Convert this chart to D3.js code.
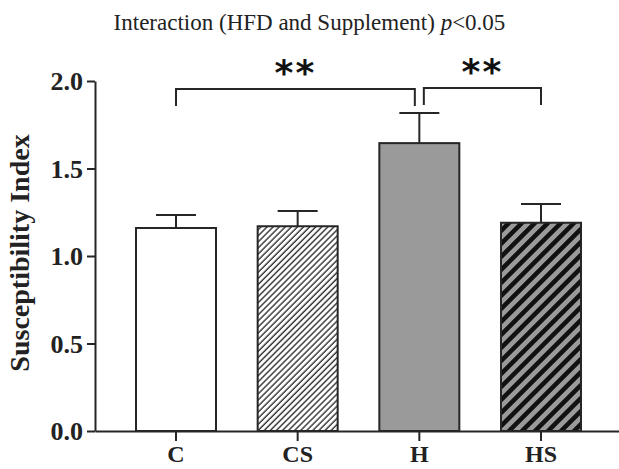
<!DOCTYPE html>
<html><head><meta charset="utf-8">
<script src="https://cdn.jsdelivr.net/npm/d3@7"></script>
<style>body{margin:0;background:#fff}</style>
</head><body><svg id="chart" width="619" height="469"></svg>
<script>
// ---- data ----
const categories = ["C", "CS", "H", "HS"];
const means = [1.16, 1.17, 1.645, 1.19];
const errors = [0.075, 0.087, 0.172, 0.107];
const yTicks = [0, 0.5, 1.0, 1.5, 2.0];
const yTickLabels = ["0.0", "0.5", "1.0", "1.5", "2.0"];
const comparisons = [["C", "H"], ["H", "HS"]];
const comparisonLevels = [1.955, 1.96];
const comparisonLabels = ["**", "**"];
const yLabel = "Susceptibility Index";
const titleMain = "Interaction (HFD and Supplement) ";
const titleP = "p";
const titleTail = "<0.05";

// ---- layout ----
const svg = d3.select("#chart");
const W = 619, H = 469;
const axisX = 95, baseY = 431, topY = 81;
const serif = "'Liberation Serif','Times New Roman',Times,serif";
const ink = "#262626";

const y = d3.scaleLinear().domain([0, 2]).range([baseY, topY]);
const x = d3.scaleBand().domain(categories).range([axisX, 622])
  .paddingInner(0.3425).paddingOuter(0.337);
const bw = x.bandwidth();
const cx = c => x(c) + bw / 2;

// patterns
const defs = svg.append("defs");
const thin = defs.append("pattern").attr("id", "thin").attr("patternUnits", "userSpaceOnUse")
  .attr("width", 4.3).attr("height", 10).attr("patternTransform", "rotate(45)");
thin.append("rect").attr("width", 4.3).attr("height", 10).attr("fill", "#fff");
thin.append("line").attr("x1", 1).attr("x2", 1).attr("y1", 0).attr("y2", 10)
  .attr("stroke", "#222").attr("stroke-width", 1.3);
const thick = defs.append("pattern").attr("id", "thick").attr("patternUnits", "userSpaceOnUse")
  .attr("width", 9.2).attr("height", 10).attr("patternTransform", "rotate(45)");
thick.append("rect").attr("width", 9.2).attr("height", 10).attr("fill", "#9a9a9a");
thick.append("rect").attr("x", 0).attr("width", 4.6).attr("height", 10).attr("fill", "#111");

const fills = ["#ffffff", "url(#thin)", "#9a9a9a", "url(#thick)"];
const data = categories.map((c, i) => ({ c, m: means[i], e: errors[i], f: fills[i] }));

// title
const t = svg.append("text").attr("x", W / 2).attr("y", 30).attr("text-anchor", "middle")
  .attr("font-family", serif).attr("font-size", 23).attr("fill", "#222");
t.append("tspan").text(titleMain);
t.append("tspan").attr("font-style", "italic").text(titleP);
t.append("tspan").text(titleTail);

// error bars (behind bars)
const eg = svg.append("g").attr("stroke", ink).attr("stroke-width", 2);
data.forEach(d => {
  eg.append("line").attr("x1", cx(d.c)).attr("x2", cx(d.c))
    .attr("y1", y(d.m)).attr("y2", y(d.m + d.e));
  eg.append("line").attr("x1", cx(d.c) - bw / 4).attr("x2", cx(d.c) + bw / 4)
    .attr("y1", y(d.m + d.e)).attr("y2", y(d.m + d.e));
});

// bars
svg.append("g").selectAll("rect").data(data).join("rect")
  .attr("x", d => x(d.c)).attr("y", d => y(d.m))
  .attr("width", bw).attr("height", d => y(0) - y(d.m))
  .attr("fill", d => d.f).attr("stroke", ink).attr("stroke-width", 2);

// y axis
const ya = svg.append("g").attr("transform", `translate(${axisX},0)`)
  .call(d3.axisLeft(y).tickValues(yTicks).tickFormat((d, i) => yTickLabels[i]).tickSize(8).tickSizeOuter(0).tickPadding(4));
ya.select(".domain").attr("stroke", ink).attr("stroke-width", 2);
ya.selectAll(".tick line").attr("stroke", ink).attr("stroke-width", 2);
ya.selectAll(".tick text").attr("font-family", serif).attr("font-weight", "bold")
  .attr("font-size", 26).attr("fill", "#222").attr("dy", "0.34em");

// x axis
const xa = svg.append("g").attr("transform", `translate(0,${baseY})`)
  .call(d3.axisBottom(x).tickSize(10).tickSizeOuter(0).tickPadding(4));
xa.select(".domain").attr("stroke", ink).attr("stroke-width", 2);
xa.selectAll(".tick line").attr("stroke", ink).attr("stroke-width", 2);
xa.selectAll(".tick text").attr("font-family", serif).attr("font-weight", "bold")
  .attr("font-size", 24).attr("fill", "#222");

// y label
svg.append("text").attr("transform", `translate(29,${253}) rotate(-90)`)
  .attr("text-anchor", "middle").attr("font-family", serif).attr("font-weight", "bold")
  .attr("font-size", 28).attr("fill", "#222").text(yLabel);

// significance brackets
const gap = 4.5, drop = 17;
comparisons.forEach((pair, i) => {
  const [a, b] = pair;
  let x1 = cx(a), x2 = cx(b);
  if (a === "H") x1 += gap;
  if (b === "H") x2 -= gap;
  const yl = y(comparisonLevels[i]);
  svg.append("path")
    .attr("d", `M${x1},${yl + drop}V${yl}H${x2}V${yl + drop}`)
    .attr("fill", "none").attr("stroke", ink).attr("stroke-width", 2);
  svg.append("text").attr("x", (x1 + x2) / 2).attr("y", yl - 4)
    .attr("text-anchor", "middle").attr("font-family", "'DejaVu Sans',sans-serif")
    .attr("font-weight", "bold").attr("font-size", 36).attr("letter-spacing", 2)
    .attr("fill", "#111").text(comparisonLabels[i]);
});
</script></body></html>
